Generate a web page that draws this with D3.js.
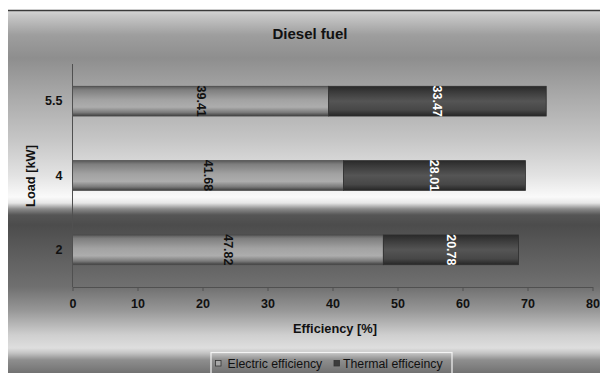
<!DOCTYPE html>
<html>
<head>
<meta charset="utf-8">
<script src="https://cdn.jsdelivr.net/npm/d3@7"></script>
<style>
  html, body { margin: 0; padding: 0; background: #fff; }
  svg { display: block; }
  text { font-family: "Liberation Sans", Arial, sans-serif; }
</style>
</head>
<body>
<svg id="chart" width="600" height="373"></svg>
<script>
// ---- data ----
const categories = ["5.5", "4", "2"];
const electricEff = [39.41, 41.68, 47.82];
const thermalEff = [33.47, 28.01, 20.78];
const xTickValues = [0, 10, 20, 30, 40, 50, 60, 70, 80];
const seriesNames = ["Electric efficiency", "Thermal efficeincy"];
const titleText = "Diesel fuel";
const xTitle = "Efficiency [%]";
const yTitle = "Load [kW]";

const svg = d3.select("#chart");
const defs = svg.append("defs");

// background gradient (absolute y positions)
const bgStops = [
  [10, "#d8d8d8"], [15, "#c8c8c8"], [35, "#9e9e9e"], [58, "#8e8e8e"],
  [100, "#acacac"], [140, "#c6c6c6"], [175, "#e2e2e2"], [197, "#fafafa"],
  [203, "#e6e6e6"], [209, "#8a8a8a"], [215, "#555555"], [225, "#4c4c4c"],
  [255, "#5e5e5e"], [287, "#707070"], [310, "#969696"], [335, "#cfcfcf"],
  [348, "#dedede"], [353, "#c4c4c4"], [360, "#8e8e8e"], [373, "#727272"]
];
const bg = defs.append("linearGradient").attr("id", "bgGrad")
  .attr("gradientUnits", "userSpaceOnUse")
  .attr("x1", 0).attr("x2", 0).attr("y1", 10).attr("y2", 373);
bg.selectAll("stop").data(bgStops).join("stop")
  .attr("offset", d => (d[0] - 10) / 363)
  .attr("stop-color", d => d[1]);

const elecGrad = defs.append("linearGradient").attr("id", "elecGrad")
  .attr("x1", 0).attr("x2", 0).attr("y1", 0).attr("y2", 1);
[[0, "#5a5a5a"], [0.12, "#7e7e7e"], [0.45, "#a2a2a2"], [0.7, "#adadad"], [0.88, "#7a7a7a"], [1, "#404040"]]
  .forEach(s => elecGrad.append("stop").attr("offset", s[0]).attr("stop-color", s[1]));

const thermGrad = defs.append("linearGradient").attr("id", "thermGrad")
  .attr("x1", 0).attr("x2", 0).attr("y1", 0).attr("y2", 1);
[[0, "#2a2a2a"], [0.2, "#3c3c3c"], [0.5, "#555555"], [0.8, "#474747"], [1, "#262626"]]
  .forEach(s => thermGrad.append("stop").attr("offset", s[0]).attr("stop-color", s[1]));

// chart area
svg.append("rect").attr("x", 8).attr("y", 10).attr("width", 600).attr("height", 373)
  .attr("fill", "url(#bgGrad)");
svg.append("line").attr("x1", 8).attr("x2", 600).attr("y1", 10.5).attr("y2", 10.5)
  .attr("stroke", "#3a3a3a").attr("stroke-width", 1.5);

// scales
const x = d3.scaleLinear().domain([0, 80]).range([72.5, 592.5]);
const y = d3.scaleBand().domain(categories).range([64, 287])
  .paddingInner(0.6).paddingOuter(0.3);

// bars
const rows = categories.map((c, i) => ({ c, e: electricEff[i], t: thermalEff[i] }));
const g = svg.append("g");
g.selectAll("rect.elec").data(rows).join("rect").attr("class", "elec")
  .attr("x", x(0)).attr("y", d => y(d.c))
  .attr("width", d => x(d.e) - x(0)).attr("height", y.bandwidth())
  .attr("fill", "url(#elecGrad)").attr("stroke", "#4a4a4a").attr("stroke-width", 0.8);
g.selectAll("rect.therm").data(rows).join("rect").attr("class", "therm")
  .attr("x", d => x(d.e)).attr("y", d => y(d.c))
  .attr("width", d => x(d.e + d.t) - x(d.e)).attr("height", y.bandwidth())
  .attr("fill", "url(#thermGrad)").attr("stroke", "#2e2e2e").attr("stroke-width", 0.8);

// value labels (rotated)
g.selectAll("text.elab").data(rows).join("text").attr("class", "elab")
  .attr("transform", d => `translate(${(x(0) + x(d.e)) / 2},${y(d.c) + y.bandwidth() / 2}) rotate(90)`)
  .attr("text-anchor", "middle").attr("dominant-baseline", "central")
  .attr("font-size", 12.5).attr("font-weight", "bold").attr("fill", "#111")
  .text(d => d.e.toFixed(2));
g.selectAll("text.tlab").data(rows).join("text").attr("class", "tlab")
  .attr("transform", d => `translate(${(x(d.e) + x(d.e + d.t)) / 2},${y(d.c) + y.bandwidth() / 2}) rotate(90)`)
  .attr("text-anchor", "middle").attr("dominant-baseline", "central")
  .attr("font-size", 12.5).attr("font-weight", "bold").attr("fill", "#fff")
  .text(d => d.t.toFixed(2));

// axes
const xAxis = svg.append("g").attr("transform", "translate(0,287)")
  .call(d3.axisBottom(x).tickValues(xTickValues).tickSize(4).tickSizeOuter(0).tickPadding(8));
xAxis.select(".domain").attr("stroke", "#505050");
xAxis.selectAll(".tick line").attr("stroke", "#505050");
xAxis.selectAll(".tick text").attr("font-size", 12.5).attr("font-weight", "bold")
  .attr("fill", "#111").attr("font-family", "Liberation Sans, Arial, sans-serif");

const yAxis = svg.append("g").attr("transform", "translate(72.5,0)")
  .call(d3.axisLeft(y).tickSize(0).tickSizeOuter(0).tickPadding(10));
yAxis.select(".domain").attr("stroke", "#505050").attr("d", "M0,64V287");
yAxis.selectAll(".tick text").attr("font-size", 12.5).attr("font-weight", "bold")
  .attr("fill", "#111").attr("font-family", "Liberation Sans, Arial, sans-serif");

// titles
svg.append("text").attr("x", 310).attr("y", 38.5).attr("text-anchor", "middle")
  .attr("font-size", 15).attr("font-weight", "bold").attr("fill", "#111").text(titleText);
svg.append("text").attr("x", 335).attr("y", 332.5).attr("text-anchor", "middle")
  .attr("font-size", 12.8).attr("font-weight", "bold").attr("fill", "#111").text(xTitle);
svg.append("text").attr("transform", "translate(30,176) rotate(-90)")
  .attr("text-anchor", "middle").attr("dominant-baseline", "central")
  .attr("font-size", 12.8).attr("font-weight", "bold").attr("fill", "#111").text(yTitle);

// legend
const lg = svg.append("g");
lg.append("rect").attr("x", 211).attr("y", 352.5).attr("width", 241).attr("height", 30)
  .attr("fill", "none").attr("stroke", "#f4f4f4").attr("stroke-width", 1.2);
const legendItems = [
  { name: seriesNames[0], x: 215.5, tx: 227.5, fill: "#a8a8a8" },
  { name: seriesNames[1], x: 334, tx: 343, fill: "#3c3c3c" }
];
legendItems.forEach(it => {
  lg.append("rect").attr("x", it.x).attr("y", 360.5).attr("width", 5.5).attr("height", 5.5)
    .attr("fill", it.fill).attr("stroke", "#333").attr("stroke-width", 0.8);
  lg.append("text").attr("x", it.tx).attr("y", 364).attr("dominant-baseline", "central")
    .attr("font-size", 12.3).attr("fill", "#111").text(it.name);
});
</script>
</body>
</html>
